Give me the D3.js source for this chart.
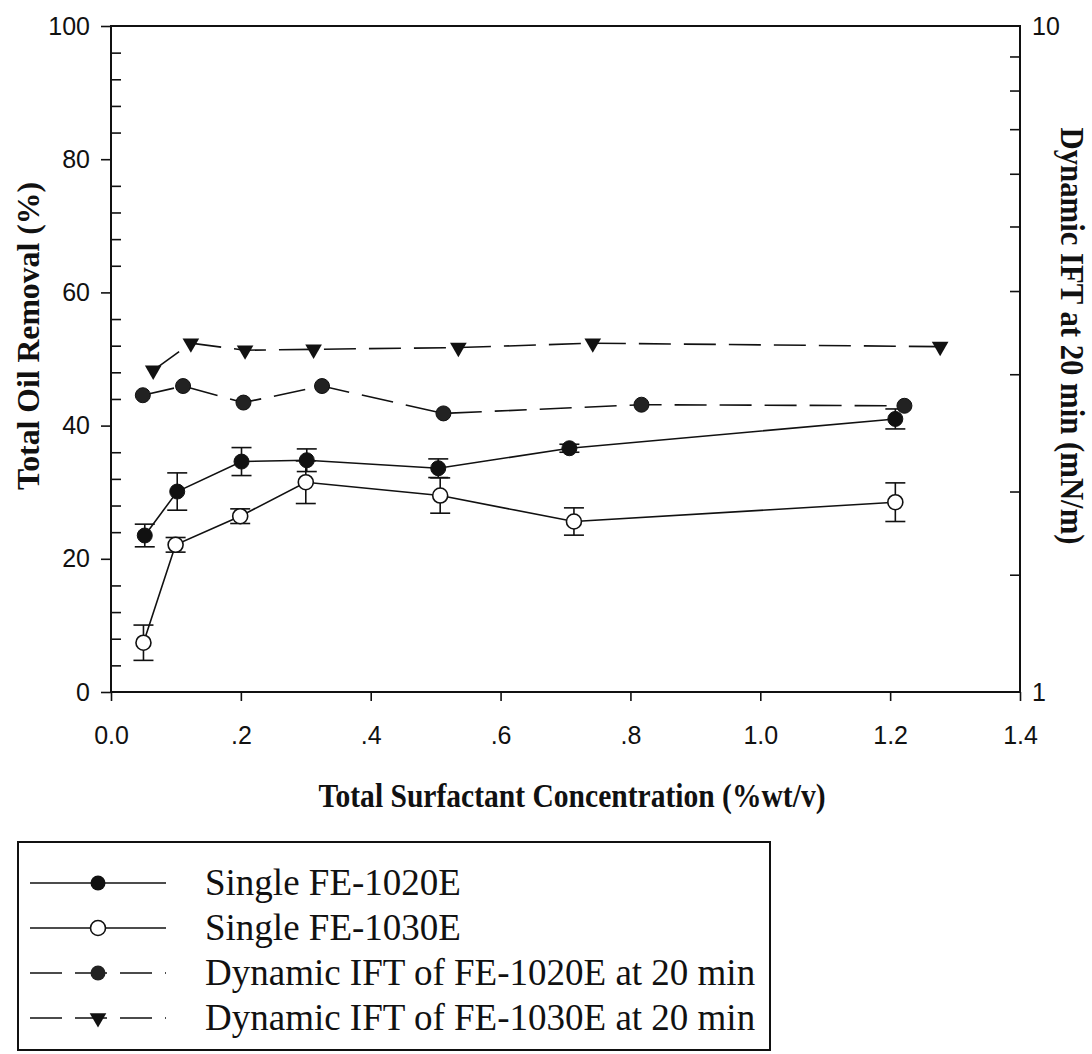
<!DOCTYPE html>
<html><head><meta charset="utf-8">
<script src="https://cdn.jsdelivr.net/npm/d3@7"></script>
<style>body{margin:0;background:#fff}</style>
</head><body>
<svg id="c" width="1092" height="1054"></svg>
<script>
// ---- data ----
const xTicks = [0, 0.2, 0.4, 0.6, 0.8, 1.0, 1.2, 1.4];
const xTickLabels = ["0.0", ".2", ".4", ".6", ".8", "1.0", "1.2", "1.4"];
const yTicks = [0, 20, 40, 60, 80, 100];
const yMinorTicks = [4, 8, 12, 16, 24, 28, 32, 36, 44, 48, 52, 56, 64, 68, 72, 76, 84, 88, 92, 96];
const y2MinorTicks = [1.5, 2, 3, 4, 5, 6, 7, 8, 9];
const y2Labels = [1, 10];

const conc1020 = [0.052, 0.102, 0.201, 0.3015, 0.504, 0.706, 1.208];
const removal1020 = [23.5, 30.1, 34.6, 34.8, 33.6, 36.6, 41.0];
const err1020 = [1.7, 2.8, 2.1, 1.7, 1.4, 0.6, 1.5];

const conc1030 = [0.050, 0.0995, 0.199, 0.300, 0.507, 0.713, 1.208];
const removal1030 = [7.4, 22.1, 26.4, 31.5, 29.5, 25.6, 28.5];
const err1030 = [2.65, 1.1, 1.1, 3.2, 2.65, 2.05, 2.9];

const iftConc1020 = [0.049, 0.111, 0.204, 0.325, 0.512, 0.817, 1.222];
const ift1020 = [2.79, 2.88, 2.72, 2.88, 2.62, 2.70, 2.69];

const iftConc1030 = [0.065, 0.123, 0.2065, 0.312, 0.535, 0.742, 1.277];
const ift1030 = [3.04, 3.34, 3.26, 3.27, 3.29, 3.34, 3.30];

const legendLabels = ["Single FE-1020E", "Single FE-1030E",
  "Dynamic IFT of FE-1020E at 20 min", "Dynamic IFT of FE-1030E at 20 min"];

const xTitle = "Total Surfactant Concentration (%wt/v)";
const yTitle = "Total Oil Removal (%)";
const y2Title = "Dynamic IFT at 20 min (mN/m)";

// ---- layout ----
const L = 111, R = 1020, T = 26, B = 692;
const svg = d3.select("#c");
const x = d3.scaleLinear().domain([0, 1.4]).range([L, R]);
const y = d3.scaleLinear().domain([0, 100]).range([B, T]);
const y2 = d3.scaleLog().domain([1, 10]).range([B, T]);

const sans = "Arial, 'Liberation Sans', sans-serif";
const serif = "'Times New Roman', 'Liberation Serif', serif";

// frame
svg.append("rect").attr("x", L).attr("y", T).attr("width", R - L).attr("height", B - T)
  .attr("fill", "none").attr("stroke", "#111").attr("stroke-width", 2);

function styleAxis(g) {
  g.select(".domain").remove();
  g.selectAll(".tick line").attr("stroke", "#111").attr("stroke-width", 1.6);
  g.selectAll(".tick text").attr("fill", "#111").style("font-family", sans).style("font-size", "25px");
}

// left axis: major outward, minor inward
svg.append("g").attr("transform", `translate(${L},0)`)
  .call(d3.axisLeft(y).tickValues(yTicks).tickSize(10).tickPadding(11).tickFormat(d3.format("d")))
  .call(styleAxis);
svg.append("g").attr("transform", `translate(${L},0)`)
  .call(d3.axisRight(y).tickValues(yMinorTicks).tickSize(10).tickFormat(""))
  .call(styleAxis);

// bottom axis
const gx = svg.append("g").attr("transform", `translate(0,${B})`)
  .call(d3.axisBottom(x).tickValues(xTicks).tickSize(9).tickFormat((d, i) => xTickLabels[i]))
  .call(styleAxis);
gx.selectAll(".tick text").attr("dy", null).attr("y", 52);

// right log axis: inward ticks, labels at 1 and 10
svg.append("g").attr("transform", `translate(${R},0)`)
  .call(d3.axisLeft(y2).tickValues(y2MinorTicks).tickSize(10).tickFormat(""))
  .call(styleAxis);
svg.append("g").attr("transform", `translate(${R},0)`)
  .call(d3.axisRight(y2).tickValues(y2Labels).tickSize(0).tickPadding(12).tickFormat(d3.format("d")))
  .call(styleAxis);

// titles
svg.append("text").attr("x", 572).attr("y", 807).attr("text-anchor", "middle")
  .attr("textLength", 507).attr("lengthAdjust", "spacingAndGlyphs")
  .style("font-family", serif).style("font-weight", "bold").style("font-size", "33px")
  .attr("fill", "#111").text(xTitle);
svg.append("text").attr("transform", "translate(39,336) rotate(-90)").attr("text-anchor", "middle")
  .attr("textLength", 308).attr("lengthAdjust", "spacingAndGlyphs")
  .style("font-family", serif).style("font-weight", "bold").style("font-size", "32px")
  .attr("fill", "#111").text(yTitle);
svg.append("text").attr("transform", "translate(1061,336) rotate(90)").attr("text-anchor", "middle")
  .attr("textLength", 417).attr("lengthAdjust", "spacingAndGlyphs")
  .style("font-family", serif).style("font-weight", "bold").style("font-size", "33px")
  .attr("fill", "#111").text(y2Title);

// ---- series ----
const dash = "32,13";
const idx = d3.range(7);

function series(xs, ys, ys2scale, dashed) {
  const line = d3.line().x(i => x(xs[i])).y(i => ys2scale(ys[i]));
  svg.append("path").attr("d", line(idx)).attr("fill", "none").attr("stroke", "#111")
    .attr("stroke-width", 1.6).attr("stroke-dasharray", dashed ? dash : null);
}
series(conc1020, removal1020, y, false);
series(conc1030, removal1030, y, false);
series(iftConc1020, ift1020, y2, true);
series(iftConc1030, ift1030, y2, true);

function errorBars(xs, ys, es) {
  const g = svg.append("g").attr("stroke", "#111").attr("stroke-width", 1.6);
  idx.forEach(i => {
    const cx = x(xs[i]), y0 = y(ys[i] - es[i]), y1 = y(ys[i] + es[i]);
    g.append("line").attr("x1", cx).attr("x2", cx).attr("y1", y0).attr("y2", y1);
    g.append("line").attr("x1", cx - 10).attr("x2", cx + 10).attr("y1", y0).attr("y2", y0);
    g.append("line").attr("x1", cx - 10).attr("x2", cx + 10).attr("y1", y1).attr("y2", y1);
  });
}
errorBars(conc1020, removal1020, err1020);
errorBars(conc1030, removal1030, err1030);

// markers
svg.append("g").selectAll("circle").data(idx).join("circle")
  .attr("cx", i => x(iftConc1020[i])).attr("cy", i => y2(ift1020[i])).attr("r", 7.5)
  .attr("fill", "#222").attr("stroke", "#111").attr("stroke-width", 1);
const tri = d3.symbol().type(d3.symbolTriangle).size(120);
svg.append("g").selectAll("path").data(idx).join("path")
  .attr("d", tri).attr("transform", i => `translate(${x(iftConc1030[i])},${y2(ift1030[i])}) rotate(180)`)
  .attr("fill", "#111");
svg.append("g").selectAll("circle").data(idx).join("circle")
  .attr("cx", i => x(conc1020[i])).attr("cy", i => y(removal1020[i])).attr("r", 7.5)
  .attr("fill", "#111").attr("stroke", "#111").attr("stroke-width", 1);
svg.append("g").selectAll("circle").data(idx).join("circle")
  .attr("cx", i => x(conc1030[i])).attr("cy", i => y(removal1030[i])).attr("r", 7.5)
  .attr("fill", "#fff").attr("stroke", "#111").attr("stroke-width", 1.6);

// ---- legend ----
const lg = svg.append("g");
lg.append("rect").attr("x", 18).attr("y", 842).attr("width", 752).attr("height", 208)
  .attr("fill", "none").attr("stroke", "#111").attr("stroke-width", 2);
const rowY = [883, 928, 973, 1018];
legendLabels.forEach((lab, i) => {
  const cy = rowY[i];
  lg.append("line").attr("x1", 30).attr("x2", 166).attr("y1", cy).attr("y2", cy)
    .attr("stroke", "#111").attr("stroke-width", 1.6)
    .attr("stroke-dasharray", i >= 2 ? dash : null);
  if (i === 0) lg.append("circle").attr("cx", 98).attr("cy", cy).attr("r", 7.5).attr("fill", "#111");
  if (i === 1) lg.append("circle").attr("cx", 98).attr("cy", cy).attr("r", 7.5).attr("fill", "#fff")
    .attr("stroke", "#111").attr("stroke-width", 1.6);
  if (i === 2) lg.append("circle").attr("cx", 98).attr("cy", cy).attr("r", 7.5).attr("fill", "#222");
  if (i === 3) lg.append("path").attr("d", tri).attr("transform", `translate(98,${cy}) rotate(180)`).attr("fill", "#111");
  lg.append("text").attr("x", 205).attr("y", cy + 12).style("font-family", serif)
    .style("font-size", "37px").attr("fill", "#111").text(lab);
});
</script>
</body></html>
